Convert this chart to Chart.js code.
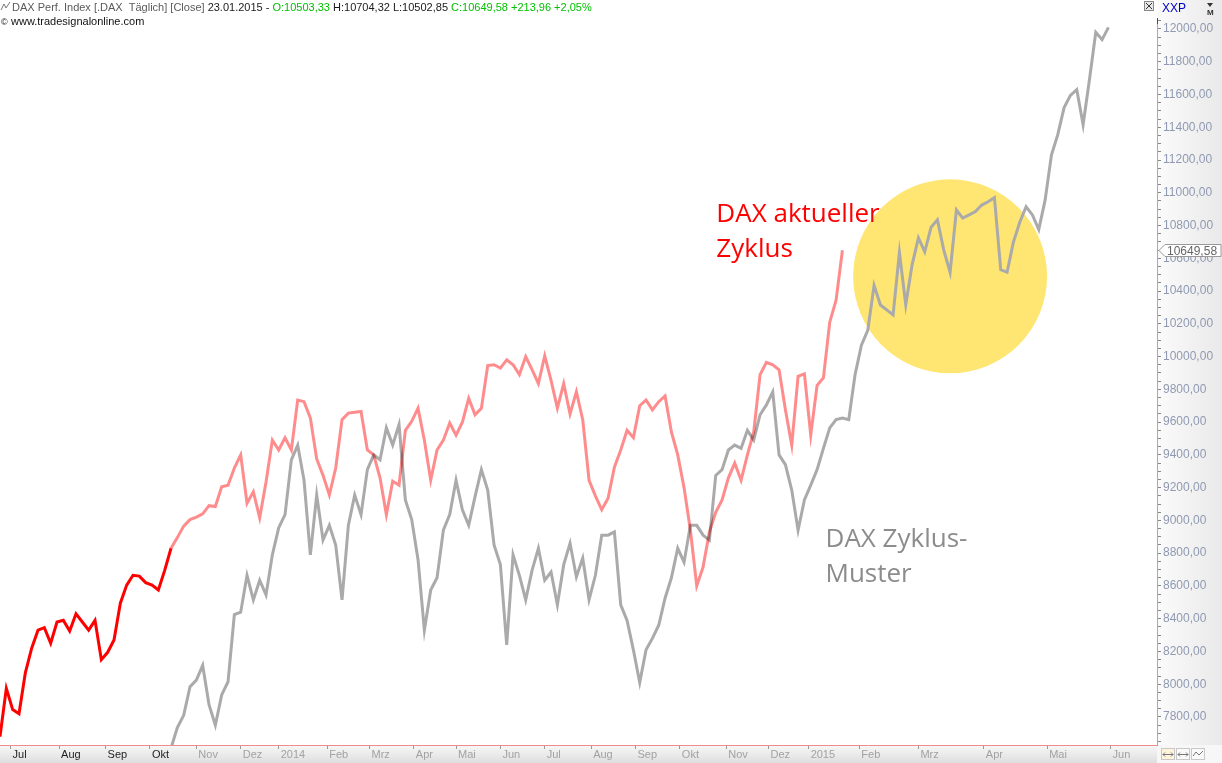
<!DOCTYPE html>
<html>
<head>
<meta charset="utf-8">
<script src="https://cdn.jsdelivr.net/npm/chart.js@4.4.1/dist/chart.umd.min.js"></script>
<style>
  html, body { margin: 0; padding: 0; background: #fff; overflow: hidden; }
  #wrap { position: relative; width: 1222px; height: 763px; }
</style>
</head>
<body>
<div id="wrap"><canvas id="daxChart" width="1222" height="763"></canvas></div>
<script>
// --- DATEN ---
// x-Achse in Handelstagen (Bars) ab Ende Juni 2013
const monthLabels = ['Jul', 'Aug', 'Sep', 'Okt', 'Nov', 'Dez', '2014', 'Feb', 'Mrz', 'Apr', 'Mai', 'Jun',
                     'Jul', 'Aug', 'Sep', 'Okt', 'Nov', 'Dez', '2015', 'Feb', 'Mrz', 'Apr', 'Mai', 'Jun'];
const monthBars = [5, 28, 50, 71, 93, 114, 132, 155, 175, 196, 216, 237,
                   258, 280, 301, 322, 344, 364, 383, 407, 435, 466, 496, 526];
const priceTicks = [7800, 8000, 8200, 8400, 8600, 8800, 9000, 9200, 9400, 9600, 9800,
                    10000, 10200, 10400, 10600, 10800, 11000, 11200, 11400, 11600, 11800, 12000];

const barStep = 3;          // ein Wert alle 3 Bars
const redStartBar = 0;      // DAX aktueller Zyklus
const brightRedUntil = 81;  // bis hier kräftiges Rot
const greyStartBar = 81;    // DAX Zyklus-Muster

const redValues = [
  7680, 7975, 7845, 7820, 8070, 8220, 8330, 8345, 8250, 8380,
  8390, 8325, 8430, 8380, 8330, 8390, 8150, 8195, 8270, 8495,
  8605, 8665, 8660, 8620, 8605, 8575, 8695, 8830, 8895, 8965,
  9005, 9020, 9040, 9090, 9085, 9205, 9215, 9320, 9400, 9105,
  9175, 9015, 9235, 9490, 9430, 9505, 9430, 9735, 9725, 9625,
  9375, 9275, 9155, 9320, 9615, 9655, 9660, 9665, 9430, 9400,
  9260, 9035, 9240, 9215, 9550, 9605, 9685, 9490, 9245, 9430,
  9490, 9595, 9520, 9600, 9745, 9645, 9685, 9945, 9950, 9930,
  9980, 9950, 9890, 10000, 9920, 9835, 10005, 9855, 9685, 9835,
  9650, 9785, 9615, 9245, 9150, 9065, 9135, 9325, 9430, 9550,
  9505, 9700, 9735, 9675, 9725, 9760, 9540, 9400, 9200, 8940,
  8600, 8715, 8930, 9050, 9125, 9260, 9350, 9245, 9400, 9540,
  9890, 9965, 9950, 9920, 9675, 9460, 9880, 9895, 9520, 9825,
  9870, 10210, 10345, 10649.58
];

const greyValues = [
  7610, 7735, 7810, 7985, 8025, 8115, 7875, 7750, 7935, 8015,
  8425, 8440, 8665, 8515, 8635, 8545, 8790, 8955, 9035, 9370,
  9460, 9245, 8790, 9155, 8880, 8970, 8850, 8515, 8970, 9155,
  9035, 9310, 9400, 9370, 9565, 9460, 9585, 9125, 9005, 8760,
  8330, 8575, 8650, 8940, 9035, 9245, 9065, 8970, 9145, 9310,
  9185, 8850, 8730, 8240, 8790, 8665, 8515, 8695, 8830, 8635,
  8685, 8485, 8730, 8860, 8655, 8770, 8515, 8665, 8910, 8910,
  8930, 8485, 8390, 8210, 8010, 8210, 8280, 8360, 8525, 8650,
  8830, 8745, 8970, 8970, 8910, 8880, 9275, 9310, 9430, 9460,
  9440, 9550, 9490, 9645, 9705, 9785, 9400, 9340, 9185, 8940,
  9125, 9215, 9310, 9440, 9565, 9615, 9625, 9615, 9890, 10070,
  10160, 10435, 10315, 10285, 10255, 10635, 10315, 10560, 10725, 10640,
  10790, 10835, 10650, 10515, 10895, 10845, 10865, 10885, 10925, 10945,
  10970, 10530, 10515, 10700, 10820, 10915, 10865, 10775, 10955, 11230,
  11355, 11520, 11595, 11630, 11415, 11690, 11980, 11935, 12010
];

// --- GESTALTUNG ---
const FONT = "'Liberation Sans', Arial, sans-serif";
const NOTE_FONT = "'Open Sans', 'Liberation Sans', sans-serif";
const circleSpot = { bar: 450, value: 10490, radius: 592 };
const notes = [
  { lines: ['DAX aktueller', 'Zyklus'], bar: 339.3, value: 10822, color: '#ff0000' },
  { lines: ['DAX Zyklus-', 'Muster'], bar: 391, value: 8838, color: '#8c8c8c' }
];
const header = [
  ['DAX Perf. Index [.DAX  Täglich] [Close] ', '#5a5a5a'],
  ['23.01.2015 - ', '#1a1a1a'],
  ['O:10503,33', '#00c000'],
  [' H:10704,32 L:10502,85 ', '#1a1a1a'],
  ['C:10649,58 +213,96 +2,05%', '#00c000']
];

const toPoints = (vals, start) => vals.map((v, i) => ({ x: start + i * barStep, y: v }));
const fmtPrice = v => v.toFixed(2).replace('.', ',');

// Hintergründe der Achsenbereiche
const panels = {
  id: 'panels',
  beforeDraw(chart) {
    const { ctx, chartArea: a, width, height } = chart;
    ctx.save();
    ctx.fillStyle = '#ffffff';
    ctx.fillRect(0, 0, width, height);
    let g = ctx.createLinearGradient(a.right, 0, width, 0);
    g.addColorStop(0, '#fbfbfb');
    g.addColorStop(1, '#e9e9e9');
    ctx.fillStyle = g;
    ctx.fillRect(a.right, 0, width - a.right, height);
    g = ctx.createLinearGradient(0, a.bottom, 0, height);
    g.addColorStop(0, '#f8f8f8');
    g.addColorStop(1, '#dedede');
    ctx.fillStyle = g;
    ctx.fillRect(0, a.bottom, a.right, height - a.bottom);
    ctx.fillStyle = '#f7f7f7';
    ctx.fillRect(a.right, a.bottom, width - a.right, height - a.bottom);
    ctx.restore();
  }
};

// gelber Kreis unter den Linien
const cycleCircle = {
  id: 'cycleCircle',
  beforeDatasetsDraw(chart) {
    const { ctx, scales: { x, y } } = chart;
    const cx = x.getPixelForValue(circleSpot.bar);
    const cy = y.getPixelForValue(circleSpot.value);
    const r = Math.abs(y.getPixelForValue(circleSpot.value + circleSpot.radius) - cy);
    ctx.save();
    ctx.fillStyle = '#ffe673';
    ctx.beginPath();
    ctx.arc(cx, cy, r, 0, Math.PI * 2);
    ctx.fill();
    ctx.restore();
  }
};

// rote Linie dunkelt die graue ab, wo sie sich kreuzen
const blendRed = {
  id: 'blendRed',
  beforeDatasetDraw(chart, args) {
    if (args.index === 0) {
      chart.ctx.save();
      chart.ctx.globalCompositeOperation = 'multiply';
    }
  },
  afterDatasetDraw(chart, args) {
    if (args.index === 0) chart.ctx.restore();
  }
};

// Beschriftungen, Kopfzeile, Kursmarke
const overlay = {
  id: 'overlay',
  afterDraw(chart) {
    const { ctx, chartArea: a, scales: { x, y }, width } = chart;
    ctx.save();

    // Notizen
    ctx.font = '26px ' + NOTE_FONT;
    ctx.textBaseline = 'alphabetic';
    ctx.textAlign = 'left';
    notes.forEach(n => {
      ctx.fillStyle = n.color;
      const px = x.getPixelForValue(n.bar);
      const py = y.getPixelForValue(n.value);
      n.lines.forEach((t, i) => ctx.fillText(t, px, py + i * 35));
    });

    // Kopfzeile
    ctx.strokeStyle = '#777';
    ctx.lineWidth = 1;
    ctx.beginPath();
    ctx.moveTo(1, 10); ctx.lineTo(4, 4); ctx.lineTo(6, 8); ctx.lineTo(10, 2);
    ctx.stroke();
    ctx.font = '11px ' + FONT;
    let hx = 12;
    header.forEach(([t, c]) => {
      ctx.fillStyle = c;
      ctx.fillText(t, hx, 11);
      hx += ctx.measureText(t).width;
    });
    ctx.fillStyle = '#111';
    ctx.font = '9px ' + FONT;
    ctx.fillText('©', 1, 25);
    ctx.font = '11px ' + FONT;
    ctx.fillText('www.tradesignalonline.com', 11, 25);

    // rechts oben
    ctx.fillStyle = '#e8e8e8';
    ctx.fillRect(1144, 1, 10, 10);
    ctx.strokeStyle = '#888';
    ctx.strokeRect(1144.5, 1.5, 9, 9);
    ctx.strokeStyle = '#333';
    ctx.beginPath();
    ctx.moveTo(1146, 3); ctx.lineTo(1152, 9); ctx.moveTo(1152, 3); ctx.lineTo(1146, 9);
    ctx.stroke();
    ctx.fillStyle = '#0000cc';
    ctx.font = '12px ' + FONT;
    ctx.fillText('XXP', a.right + 5, 12);
    ctx.fillStyle = '#333';
    ctx.font = 'bold 8px ' + FONT;
    ctx.fillText('M', width - 15, 15);
    ctx.beginPath();
    ctx.moveTo(width - 15, 3); ctx.lineTo(width - 9, 3); ctx.lineTo(width - 12, 7);
    ctx.fill();

    // kräftig rotes Stück oben am rechten Rand
    ctx.strokeStyle = '#ff0000';
    ctx.beginPath();
    ctx.moveTo(a.right + 0.5, a.top);
    ctx.lineTo(a.right + 0.5, a.top + 6);
    ctx.stroke();

    // Kursmarke letzter Schluss
    const last = redValues[redValues.length - 1];
    const ly = Math.round(y.getPixelForValue(last)) + 0.5;
    ctx.fillStyle = '#ffffff';
    ctx.strokeStyle = '#9a9a9a';
    ctx.beginPath();
    ctx.moveTo(a.right + 2, ly);
    ctx.lineTo(a.right + 8, ly - 6);
    ctx.lineTo(width - 1, ly - 6);
    ctx.lineTo(width - 1, ly + 6);
    ctx.lineTo(a.right + 8, ly + 6);
    ctx.closePath();
    ctx.fill();
    ctx.stroke();
    ctx.fillStyle = '#666';
    ctx.font = '12px ' + FONT;
    ctx.textBaseline = 'middle';
    ctx.fillText(fmtPrice(last), a.right + 10, ly + 1);

    // Knöpfe unten rechts
    const bx = a.right + 4, by = a.bottom + 3;
    ['#fff3dc', '#fafafa', '#fafafa'].forEach((c, i) => {
      ctx.fillStyle = c;
      ctx.fillRect(bx + i * 15, by, 14, 12);
      ctx.strokeStyle = '#c8c8c8';
      ctx.strokeRect(bx + i * 15 + 0.5, by + 0.5, 13, 11);
    });
    ctx.strokeStyle = '#777';
    ctx.beginPath();
    for (let i = 0; i < 2; i++) {
      const ox = bx + i * 15;
      ctx.moveTo(ox + 2, by + 6.5); ctx.lineTo(ox + 12, by + 6.5);
      ctx.moveTo(ox + 4, by + 4.5); ctx.lineTo(ox + 2, by + 6.5); ctx.lineTo(ox + 4, by + 8.5);
      ctx.moveTo(ox + 10, by + 4.5); ctx.lineTo(ox + 12, by + 6.5); ctx.lineTo(ox + 10, by + 8.5);
    }
    const ox = bx + 30;
    ctx.moveTo(ox + 2, by + 8); ctx.lineTo(ox + 5, by + 4); ctx.lineTo(ox + 8, by + 7); ctx.lineTo(ox + 12, by + 3);
    ctx.stroke();
    ctx.restore();
  }
};

const ctx = document.getElementById('daxChart').getContext('2d');

new Chart(ctx, {
  type: 'line',
  data: {
    datasets: [
      {
        label: 'DAX aktueller Zyklus',
        data: toPoints(redValues, redStartBar),
        borderWidth: 3,
        borderColor: 'rgba(255,0,0,0.45)',
        segment: {
          borderColor: c => c.p1.parsed.x <= brightRedUntil ? '#ff0000' : 'rgba(255,0,0,0.45)'
        },
        pointRadius: 0,
        tension: 0
      },
      {
        label: 'DAX Zyklus-Muster',
        data: toPoints(greyValues, greyStartBar),
        borderWidth: 3,
        borderColor: '#aaaaaa',
        pointRadius: 0,
        tension: 0
      }
    ]
  },
  options: {
    responsive: false,
    animation: false,
    devicePixelRatio: 1,
    layout: { padding: { top: 18, left: 0, right: 0, bottom: 0 } },
    plugins: { legend: { display: false }, tooltip: { enabled: false } },
    scales: {
      x: {
        type: 'linear',
        min: 0,
        max: 548,
        afterBuildTicks: s => { s.ticks = monthBars.map(v => ({ value: v })); },
        afterFit: s => { s.height = 18; },
        grid: { drawOnChartArea: false, drawTicks: true, tickLength: 4, color: '#9a9a9a' },
        border: { display: true, color: '#f08c8c', width: 1 },
        ticks: {
          autoSkip: false,
          maxRotation: 0,
          align: 'start',
          labelOffset: 2,
          padding: -1,
          font: { family: FONT, size: 11 },
          color: c => c.index < 4 ? '#1e1e1e' : '#a2a2a2',
          callback: (v, i) => monthLabels[i]
        }
      },
      y: {
        position: 'right',
        min: 7629,
        max: 12067,
        afterBuildTicks: s => {
          const t = [];
          for (let v = priceTicks[0] - 150; v <= priceTicks[priceTicks.length - 1] + 50; v += 50) t.push({ value: v });
          s.ticks = t;
        },
        afterFit: s => { s.width = 65; },
        grid: { drawOnChartArea: false, drawTicks: true, tickLength: 4, color: '#8a8a8a' },
        border: { display: true, color: '#f08c8c', width: 1 },
        ticks: {
          autoSkip: false,
          padding: 2,
          font: { family: FONT, size: 12 },
          color: '#8f9ab2',
          callback: v => priceTicks.includes(v) ? fmtPrice(v) : ''
        }
      }
    }
  },
  plugins: [panels, cycleCircle, blendRed, overlay]
});
</script>
</body>
</html>
